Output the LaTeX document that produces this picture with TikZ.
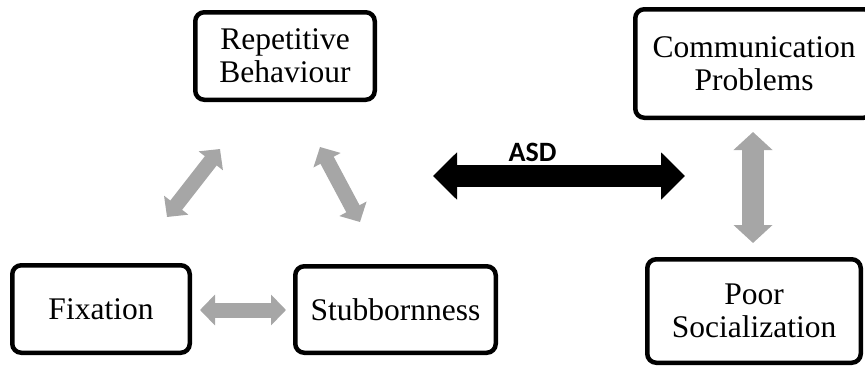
\documentclass[tikz,border=0pt]{standalone}
\usepackage{fontspec}
\setmainfont{Liberation Serif}
\newfontfamily\asdfont{Carlito}
\usetikzlibrary{arrows.meta}
\definecolor{arrgray}{HTML}{A6A6A6}
\tikzset{
  box/.style={draw=black, line width=4.5pt, rounded corners=9pt, fill=white,
    align=center, inner sep=0pt, font=\fontsize{31.5}{33}\selectfont},
  grayarrow/.style={draw=arrgray, line width=15pt, line cap=butt,
    {Triangle[length=15pt,width=30pt]}-{Triangle[length=15pt,width=30pt]}},
  bigarrow/.style={draw=arrgray, line width=22pt, line cap=butt,
    {Triangle[length=18pt,width=38pt]}-{Triangle[length=18pt,width=38pt]}},
  asdarrow/.style={draw=black, line width=22pt, line cap=butt,
    {Triangle[length=24pt,width=46pt]}-{Triangle[length=24pt,width=46pt]}}
}
\begin{document}
\begin{tikzpicture}[x=1pt,y=-1pt]
\useasboundingbox (0,0) rectangle (865,367);
% boxes
\node[box, minimum width=179.5pt, minimum height=87.5pt] (rep) at (285,56) {Repetitive\\Behaviour};
\node[box, minimum width=237.5pt, minimum height=108.5pt] (comm) at (754,63.5) {Communication\\Problems};
\node[box, minimum width=177.5pt, minimum height=87.5pt] (fix) at (101,309) {Fixation};
\node[box, minimum width=200.5pt, minimum height=86.5pt] (stub) at (395.5,309.5) {Stubbornness};
\node[box, minimum width=213.5pt, minimum height=103.5pt] (poor) at (754,311) {Poor\\Socialization};
% connector end points
\coordinate (d1a) at (167,217);
\coordinate (d1b) at (220,149);
\coordinate (d2a) at (320,147);
\coordinate (d2b) at (360,222);
\coordinate (ha) at (200,310);
\coordinate (hb) at (286,310);
\coordinate (va) at (753,132);
\coordinate (vb) at (753,243);
\coordinate (asda) at (433,176);
\coordinate (asdb) at (685,176);
% connectors
\draw[grayarrow] (d1a) -- (d1b);
\draw[grayarrow] (d2a) -- (d2b);
\draw[grayarrow] (ha) -- (hb);
\draw[bigarrow] (va) -- (vb);
\draw[asdarrow] (asda) -- (asdb);
\node[font=\asdfont\bfseries\fontsize{28}{30}\selectfont, inner sep=0pt] (asd) at (532.5,152) {ASD};
\end{tikzpicture}
\end{document}
